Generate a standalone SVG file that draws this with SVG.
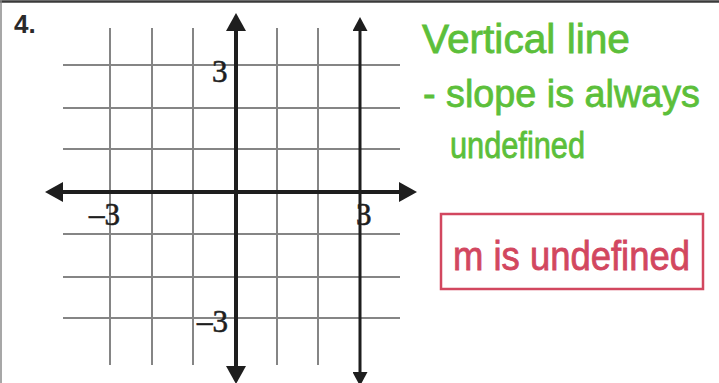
<svg xmlns="http://www.w3.org/2000/svg" width="719" height="383" viewBox="0 0 719 383">
  <defs>
    <style>
      .frame-top { stroke: #3a3a3a; stroke-width: 2.5; }
      .frame-left { stroke: #8a8a8a; stroke-width: 1.5; }
      .grid { stroke: #858585; stroke-width: 2; fill: none; }
      .axis { stroke: #1e1e1e; stroke-width: 4; fill: none; }
      .vline { stroke: #1e1e1e; stroke-width: 3; fill: none; }
      .num { font-family: "Liberation Serif", "Times New Roman", serif; font-size: 31px; fill: #1e1e1e; stroke: #1e1e1e; stroke-width: 0.6; }
      .qnum { font-family: "Liberation Sans", Arial, sans-serif; font-size: 26px; font-weight: bold; fill: #2a2a2a; }
      .note { font-family: "Liberation Sans", Arial, sans-serif; fill: #5cbf3a; stroke: #5cbf3a; stroke-width: 0.8; }
      .answer { font-family: "Liberation Sans", Arial, sans-serif; fill: #d2475f; stroke: #d2475f; stroke-width: 0.8; }
      .box { fill: none; stroke: #d2475f; stroke-width: 2.5; }
    </style>
    <marker id="arrowBig" viewBox="0 0 18 20" refX="0" refY="10" markerWidth="18" markerHeight="20" markerUnits="userSpaceOnUse" orient="auto-start-reverse">
      <path d="M0,0 L18,10 L0,20 z" fill="#1e1e1e"/>
    </marker>
    <marker id="arrowSmall" viewBox="0 0 14 15" refX="0" refY="7.5" markerWidth="14" markerHeight="15" markerUnits="userSpaceOnUse" orient="auto-start-reverse">
      <path d="M0,0 L14,7.5 L0,15 z" fill="#1e1e1e"/>
    </marker>
  </defs>

  <rect width="719" height="383" fill="#ffffff"/>

  <g id="frame">
    <line class="frame-top" x1="0" y1="1.5" x2="719" y2="1.5"/>
    <line class="frame-left" x1="1" y1="0" x2="1" y2="383"/>
  </g>

  <g id="question-number">
    <text class="qnum" x="14" y="33" font-size="26">4.</text>
  </g>

  <g id="grid">
    <line class="grid" x1="110" y1="28" x2="110" y2="365"/>
    <line class="grid" x1="152" y1="28" x2="152" y2="365"/>
    <line class="grid" x1="193" y1="28" x2="193" y2="365"/>
    <line class="grid" x1="277" y1="28" x2="277" y2="365"/>
    <line class="grid" x1="318" y1="28" x2="318" y2="365"/>
    <line class="grid" x1="63" y1="65" x2="400" y2="65"/>
    <line class="grid" x1="63" y1="108" x2="400" y2="108"/>
    <line class="grid" x1="63" y1="149" x2="400" y2="149"/>
    <line class="grid" x1="63" y1="234" x2="400" y2="234"/>
    <line class="grid" x1="63" y1="277" x2="400" y2="277"/>
    <line class="grid" x1="63" y1="318" x2="400" y2="318"/>
  </g>

  <g id="connectors">
    <line id="x-axis" class="axis" x1="63" y1="192" x2="399" y2="192" marker-start="url(#arrowBig)" marker-end="url(#arrowBig)"/>
    <line id="y-axis" class="axis" x1="236" y1="31" x2="236" y2="366" marker-start="url(#arrowBig)" marker-end="url(#arrowBig)"/>
    <line id="vertical-line" class="vline" x1="360" y1="31" x2="360" y2="372" marker-start="url(#arrowSmall)" marker-end="url(#arrowSmall)"/>
  </g>

  <g id="axis-labels">
    <text class="num" x="212" y="82">3</text>
    <text class="num" x="89" y="225">–3</text>
    <text class="num" x="356" y="225">3</text>
    <text class="num" x="197" y="332">–3</text>
  </g>

  <g id="note">
    <text class="note" x="422" y="53" font-size="40" textLength="208" lengthAdjust="spacingAndGlyphs">Vertical line</text>
    <text class="note" x="423" y="107" font-size="38" textLength="277" lengthAdjust="spacingAndGlyphs">- slope is always</text>
    <text class="note" x="450" y="158" font-size="36" textLength="135" lengthAdjust="spacingAndGlyphs">undefined</text>
  </g>

  <g id="answer-box">
    <rect class="box" x="441" y="214" width="262" height="75"/>
    <text class="answer" x="453" y="270" font-size="40" textLength="237" lengthAdjust="spacingAndGlyphs">m is undefined</text>
  </g>
</svg>
